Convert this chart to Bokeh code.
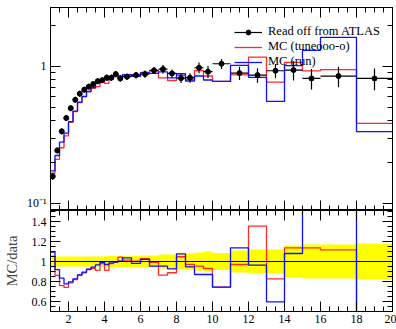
import numpy as np
from bokeh.plotting import figure
from bokeh.layouts import column
from bokeh.models import (FixedTicker, SingleIntervalTicker, LinearAxis, LogAxis, Range1d, Span,
                          CustomJSTickFormatter, Legend, LegendItem)
from bokeh.embed import file_html
from bokeh.resources import INLINE

# ---------------- data ----------------
bin_edges = [1.0, 1.25, 1.5, 1.75, 2.0, 2.25, 2.5, 2.75, 3.0, 3.25, 3.5, 3.75, 4.0,
             4.25, 4.5, 4.75, 5.0, 5.5, 6.0, 6.5, 7.0, 7.5, 8.0, 8.5, 9.0, 9.5, 10.0,
             11.0, 12.0, 13.0, 14.0, 15.0, 16.0, 18.0, 20.0]

data_y = [0.158, 0.244, 0.336, 0.420, 0.496, 0.571, 0.632, 0.676, 0.711, 0.743,
          0.781, 0.794, 0.827, 0.827, 0.879, 0.817, 0.841, 0.864, 0.879, 0.935,
          0.956, 0.889, 0.821, 0.827, 0.978, 0.915, 1.046, 0.894, 0.864, 0.930,
          0.940, 0.817, 0.850, 0.817]

data_rel_err = [0.06, 0.05, 0.05, 0.05, 0.05, 0.05, 0.05, 0.05, 0.05, 0.05,
                0.05, 0.05, 0.055, 0.055, 0.055, 0.055, 0.055, 0.055, 0.06, 0.06,
                0.07, 0.07, 0.08, 0.08, 0.09, 0.10, 0.085, 0.11, 0.12, 0.12,
                0.16, 0.17, 0.17, 0.18]

mc_tune = [0.166, 0.210, 0.255, 0.311, 0.390, 0.468, 0.544, 0.600, 0.654, 0.693,
           0.711, 0.778, 0.753, 0.810, 0.873, 0.852, 0.852, 0.867, 0.903, 0.928,
           0.825, 0.789, 0.860, 0.802, 0.932, 0.851, 0.777, 0.867, 1.169, 0.769,
           1.069, 0.929, 0.949, 0.384]

mc_run = [0.173, 0.224, 0.280, 0.326, 0.395, 0.472, 0.548, 0.604, 0.656, 0.701,
          0.755, 0.788, 0.802, 0.816, 0.873, 0.819, 0.872, 0.847, 0.897, 0.891,
          0.911, 0.824, 0.884, 0.783, 0.851, 0.796, 0.777, 1.016, 0.832, 0.555,
          1.015, 1.310, 1.630, 0.334]

labels = ["Read off from ATLAS", "MC (tuneooo-o)", "MC (run)"]

# ---------------- derived ----------------
edges = np.array(bin_edges)
lefts, rights = edges[:-1], edges[1:]
centers = 0.5 * (lefts + rights)
d = np.array(data_y)
rel = np.array(data_rel_err)
err = d * rel
red = np.array(mc_tune)
blue = np.array(mc_run)

FONT = "Liberation Serif"
RED = "#ff2a2a"
BLUE = "#1010ff"
EMPTY = CustomJSTickFormatter(code="return '';")

def style_ticks(ax, show_labels=True):
    ax.major_tick_in = 10
    ax.major_tick_out = 0
    ax.minor_tick_in = 5
    ax.minor_tick_out = 0
    ax.axis_line_color = "black"
    ax.major_tick_line_color = "black"
    ax.minor_tick_line_color = "black"
    ax.major_label_text_font = FONT
    ax.major_label_text_font_size = "12px"
    ax.major_label_text_color = "black"
    if not show_labels:
        ax.formatter = EMPTY
        ax.major_label_standoff = 0

# ---------------- main panel ----------------
p = figure(frame_width=342, frame_height=203, y_axis_type="log",
           x_range=Range1d(1, 20), y_range=Range1d(0.0889, 2.69),
           output_backend="svg", toolbar_location=None,
           min_border_left=49, min_border_right=4, min_border_top=7, min_border_bottom=0)
p.grid.visible = False
p.outline_line_color = "black"
p.background_fill_color = "white"

log_ticker = FixedTicker(ticks=[0.1, 1.0],
                         minor_ticks=[0.09, 0.2, 0.3, 0.4, 0.5, 0.6, 0.7, 0.8, 0.9, 2.0])
x_ticker = SingleIntervalTicker(interval=2, num_minor_ticks=4)

p.yaxis.ticker = log_ticker
p.yaxis.formatter = CustomJSTickFormatter(code="return tick > 0.5 ? '1' : '10\u207b\u00b9';")
style_ticks(p.yaxis[0])
p.yaxis.major_label_standoff = 4
p.xaxis.ticker = x_ticker
style_ticks(p.xaxis[0], show_labels=False)

ax_top = LinearAxis(ticker=x_ticker)
style_ticks(ax_top, show_labels=False)
p.add_layout(ax_top, "above")
ax_right = LogAxis(ticker=log_ticker)
style_ticks(ax_right, show_labels=False)
p.add_layout(ax_right, "right")

r_red = p.step(x=list(edges), y=list(red) + [red[-1]], mode="after", line_color=RED, line_width=1.3)
r_blue = p.step(x=list(edges), y=list(blue) + [blue[-1]], mode="after", line_color=BLUE, line_width=1.3)
p.segment(x0=centers, x1=centers, y0=d - err, y1=d + err, line_color="black", line_width=1.2)
r_hbar = p.segment(x0=lefts, x1=rights, y0=d, y1=d, line_color="black", line_width=1.2)
r_pts = p.scatter(x=centers, y=d, size=5, marker="circle", fill_color="black", line_color="black")

legend = Legend(items=[LegendItem(label=labels[0], renderers=[r_hbar, r_pts]),
                       LegendItem(label=labels[1], renderers=[r_red]),
                       LegendItem(label=labels[2], renderers=[r_blue])],
                location=(184, 141))
legend.background_fill_alpha = 0
legend.border_line_alpha = 0
legend.padding = 0
legend.margin = 0
legend.spacing = 0
legend.glyph_width = 28
legend.glyph_height = 12
legend.label_height = 12
legend.label_standoff = 6
legend.label_text_font = FONT
legend.label_text_font_size = "12.5px"
legend.label_text_color = "black"
p.add_layout(legend)

# ---------------- ratio panel ----------------
q = figure(frame_width=342, frame_height=101,
           x_range=p.x_range, y_range=Range1d(0.5, 1.51),
           output_backend="svg", toolbar_location=None,
           min_border_left=49, min_border_right=4, min_border_top=0, min_border_bottom=0)
q.grid.visible = False
q.outline_line_color = "black"

ry_ticker = SingleIntervalTicker(interval=0.2, num_minor_ticks=4)
q.yaxis.ticker = ry_ticker
q.yaxis.formatter = CustomJSTickFormatter(code="return String(parseFloat(tick.toFixed(2)));")
style_ticks(q.yaxis[0])
q.yaxis.major_label_standoff = 4
q.yaxis.axis_label = "MC/data"
q.yaxis.axis_label_text_font = FONT
q.yaxis.axis_label_text_font_style = "normal"
q.yaxis.axis_label_text_font_size = "14.5px"
q.yaxis.axis_label_standoff = 9
q.xaxis.ticker = x_ticker
style_ticks(q.xaxis[0])
q.xaxis.major_label_standoff = 3

qa_top = LinearAxis(ticker=x_ticker)
style_ticks(qa_top, show_labels=False)
q.add_layout(qa_top, "above")
qa_right = LinearAxis(ticker=ry_ticker)
style_ticks(qa_right, show_labels=False)
q.add_layout(qa_right, "right")

band_lo = list(1 - rel) + [1 - rel[-1]]
band_hi = list(1 + rel) + [1 + rel[-1]]
q.varea_step(x=list(edges), y1=band_lo, y2=band_hi, step_mode="after", fill_color="#ffff00")
q.add_layout(Span(location=1.0, dimension="width", line_color="black", line_width=1.2))
rr = red / d
rb = blue / d
q.step(x=list(edges), y=list(rr) + [rr[-1]], mode="after", line_color=RED, line_width=1.3)
q.step(x=list(edges), y=list(rb) + [rb[-1]], mode="after", line_color=BLUE, line_width=1.3)

layout = column(p, q, spacing=0)
open("out.html", "w").write(file_html(layout, INLINE))
